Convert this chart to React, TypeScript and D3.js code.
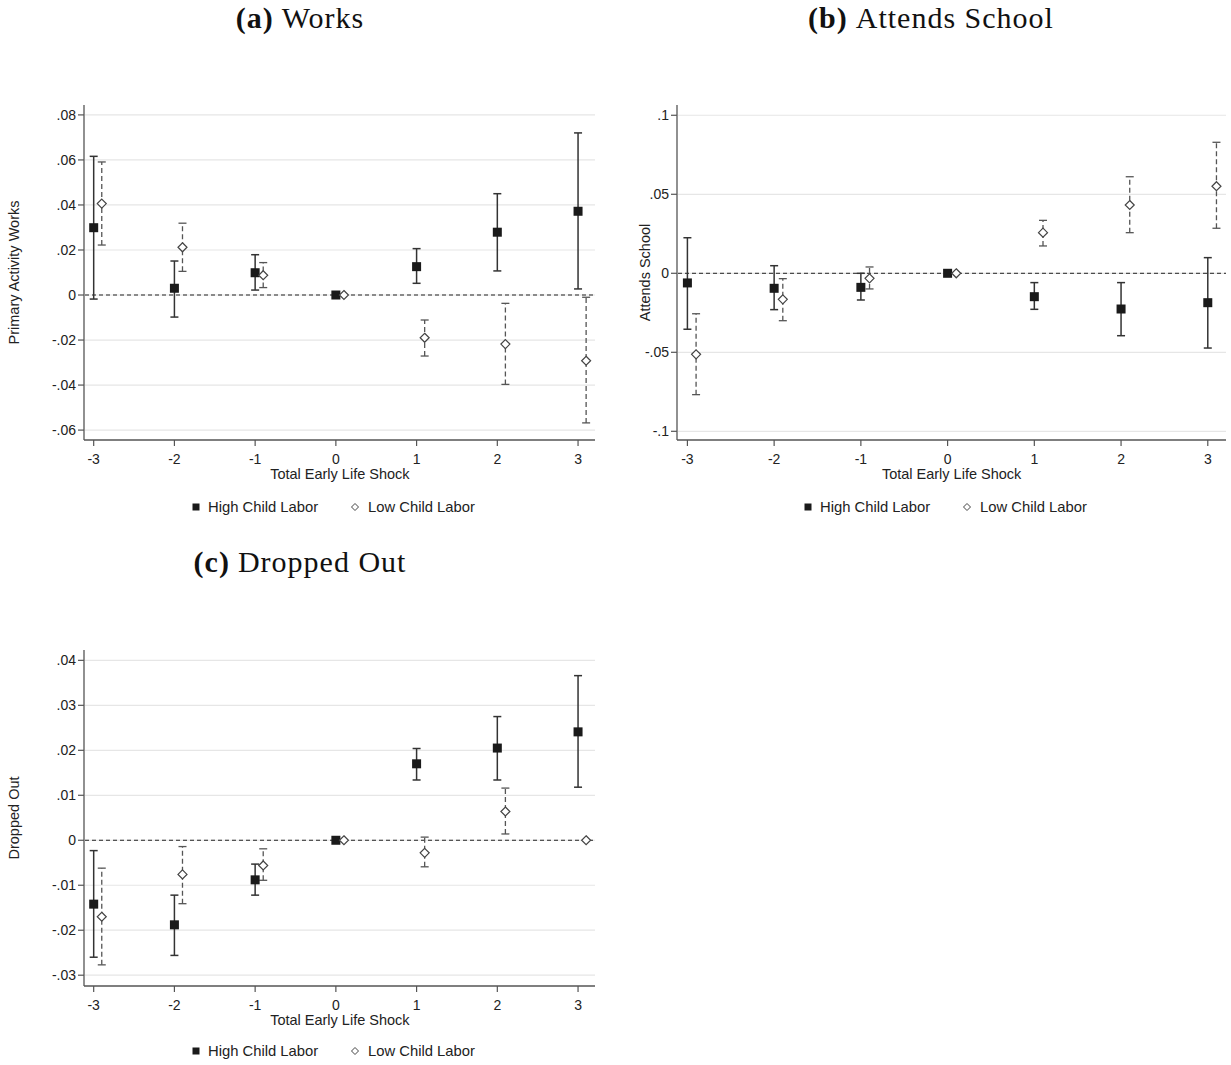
import React from 'react';
import * as d3 from 'd3';

// Total early life shock (x positions)
const shocks = [-3, -2, -1, 0, 1, 2, 3];

// (a) Works
const worksHigh = [0.0299, 0.003, 0.0099, 0, 0.0126, 0.0279, 0.0372];
const worksHighLo = [-0.0018, -0.0098, 0.0022, 0, 0.0052, 0.0107, 0.0027];
const worksHighHi = [0.0616, 0.0151, 0.0179, 0, 0.0206, 0.045, 0.072];
const worksLow = [0.0406, 0.0212, 0.0088, 0, -0.019, -0.0218, -0.0292];
const worksLowLo = [0.0222, 0.0105, 0.0033, 0, -0.0271, -0.0397, -0.0568];
const worksLowHi = [0.0591, 0.0319, 0.0144, 0, -0.0111, -0.0037, -0.001];
const worksTicks = [-0.06, -0.04, -0.02, 0, 0.02, 0.04, 0.06, 0.08];

// (b) Attends School
const schoolHigh = [-0.0061, -0.0095, -0.0089, 0, -0.0148, -0.0226, -0.0186];
const schoolHighLo = [-0.0354, -0.023, -0.0169, 0, -0.0228, -0.0395, -0.0473];
const schoolHighHi = [0.0225, 0.0048, 0.0, 0, -0.0059, -0.0059, 0.0099];
const schoolLow = [-0.0513, -0.0165, -0.0032, 0, 0.0257, 0.0432, 0.0551];
const schoolLowLo = [-0.0768, -0.03, -0.0099, 0, 0.0173, 0.0257, 0.0285];
const schoolLowHi = [-0.0256, -0.0034, 0.004, 0, 0.0335, 0.0611, 0.0829];
const schoolTicks = [-0.1, -0.05, 0, 0.05, 0.1];

// (c) Dropped Out
const dropHigh = [-0.0142, -0.0188, -0.0088, 0, 0.017, 0.0205, 0.0241];
const dropHighLo = [-0.026, -0.0256, -0.0122, 0, 0.0134, 0.0134, 0.0118];
const dropHighHi = [-0.0023, -0.0122, -0.0053, 0, 0.0204, 0.0275, 0.0366];
const dropLow = [-0.017, -0.0076, -0.0056, 0, -0.0028, 0.0064, 0];
const dropLowLo = [-0.0277, -0.0141, -0.0089, 0, -0.0059, 0.0014, 0];
const dropLowHi = [-0.0062, -0.0014, -0.0019, 0, 0.0007, 0.0116, 0];
const dropTicks = [-0.03, -0.02, -0.01, 0, 0.01, 0.02, 0.03, 0.04];

const sans = 'Arial, "Liberation Sans", Helvetica, sans-serif';
const serif = '"Liberation Serif", "Times New Roman", serif';

// strip leading zero like Stata: .08, -.02
const fmt = (v: number) => {
  if (Math.abs(v) < 1e-9) return '0';
  const s = String(+v.toFixed(3));
  return s.replace(/^(-?)0\./, '$1.');
};

type PanelProps = {
  left: number; right: number; top: number; bottom: number;
  yDomain: [number, number];
  ticks: number[];
  yTitle: string; yTitleX: number;
  high: number[]; highLo: number[]; highHi: number[];
  low: number[]; lowLo: number[]; lowHi: number[];
  titleY: number; titleX: number; letter: string; name: string;
  legendY: number; legendX: number;
};

function Panel(p: PanelProps) {
  const x = d3.scaleLinear().domain([-3.12, 3.21]).range([p.left, p.right]);
  const y = d3.scaleLinear().domain(p.yDomain).range([p.bottom, p.top]);
  const off = 0.1;
  const cap = 4;
  const axisCol = '#555';

  return (
    <g>
      <text x={p.titleX} y={p.titleY} textAnchor="middle" fontFamily={serif} fontSize={30} letterSpacing={1} fill="#111">
        <tspan fontWeight="bold">({p.letter})</tspan>
        <tspan dx={8}>{p.name}</tspan>
      </text>

      {/* grid */}
      {p.ticks.map(t => (
        <line key={'g' + t} x1={p.left + 1} x2={p.right} y1={y(t)} y2={y(t)} stroke="#e6e6e6" strokeWidth={1.2} />
      ))}
      {/* zero reference */}
      <line x1={p.left + 1} x2={p.right} y1={y(0)} y2={y(0)} stroke="#222" strokeWidth={1} strokeDasharray="4,3" />

      {/* axes */}
      <line x1={p.left} x2={p.left} y1={p.top} y2={p.bottom} stroke={axisCol} strokeWidth={1.3} />
      <line x1={p.left} x2={p.right} y1={p.bottom} y2={p.bottom} stroke={axisCol} strokeWidth={1.3} />
      {p.ticks.map(t => (
        <g key={'t' + t}>
          <line x1={p.left - 6} x2={p.left} y1={y(t)} y2={y(t)} stroke={axisCol} strokeWidth={1.2} />
          <text x={p.left - 8} y={y(t)} dy="0.35em" textAnchor="end" fontFamily={sans} fontSize={14} fill="#222">{fmt(t)}</text>
        </g>
      ))}
      {shocks.map(s => (
        <g key={'x' + s}>
          <line x1={x(s)} x2={x(s)} y1={p.bottom} y2={p.bottom + 6} stroke={axisCol} strokeWidth={1.2} />
          <text x={x(s)} y={p.bottom + 19} dy="0.35em" textAnchor="middle" fontFamily={sans} fontSize={14} fill="#222">{s}</text>
        </g>
      ))}
      <text x={(x(-3) + x(3)) / 2 + 4} y={p.bottom + 34} dy="0.35em" textAnchor="middle" fontFamily={sans} fontSize={14.5} fill="#222">Total Early Life Shock</text>
      <text transform={`translate(${p.yTitleX},${(p.top + p.bottom) / 2}) rotate(-90)`} dy="0.35em" textAnchor="middle" fontFamily={sans} fontSize={14.5} fill="#222">{p.yTitle}</text>

      {/* high child labor: solid CI, filled squares */}
      {shocks.map((s, i) => p.highHi[i] === p.highLo[i] ? null : (
        <g key={'hc' + s} stroke="#333" strokeWidth={1.5}>
          <line x1={x(s)} x2={x(s)} y1={y(p.highLo[i])} y2={y(p.highHi[i])} />
          <line x1={x(s) - cap} x2={x(s) + cap} y1={y(p.highLo[i])} y2={y(p.highLo[i])} />
          <line x1={x(s) - cap} x2={x(s) + cap} y1={y(p.highHi[i])} y2={y(p.highHi[i])} />
        </g>
      ))}
      {/* low child labor: dashed CI, hollow diamonds */}
      {shocks.map((s, i) => p.lowHi[i] === p.lowLo[i] ? null : (
        <g key={'lc' + s} stroke="#555" strokeWidth={1.3}>
          <line x1={x(s + off)} x2={x(s + off)} y1={y(p.lowLo[i])} y2={y(p.lowHi[i])} strokeDasharray="5,3" />
          <line x1={x(s + off) - cap} x2={x(s + off) + cap} y1={y(p.lowLo[i])} y2={y(p.lowLo[i])} />
          <line x1={x(s + off) - cap} x2={x(s + off) + cap} y1={y(p.lowHi[i])} y2={y(p.lowHi[i])} />
        </g>
      ))}
      {shocks.map((s, i) => (
        <rect key={'hm' + s} x={x(s) - 4.5} y={y(p.high[i]) - 4.5} width={9} height={9} fill="#1a1a1a" />
      ))}
      {shocks.map((s, i) => (
        <path key={'lm' + s} d={`M${x(s + off)},${y(p.low[i]) - 4.5}l4.5,4.5l-4.5,4.5l-4.5,-4.5z`} fill="#fff" stroke="#444" strokeWidth={1.2} />
      ))}

      {/* legend */}
      <rect x={p.legendX - 3.5} y={p.legendY - 3.5} width={7} height={7} fill="#1a1a1a" />
      <text x={p.legendX + 12} y={p.legendY} dy="0.35em" fontFamily={sans} fontSize={14.8} fill="#222">High Child Labor</text>
      <path d={`M${p.legendX + 159},${p.legendY - 3.5}l3.5,3.5l-3.5,3.5l-3.5,-3.5z`} fill="#fff" stroke="#444" strokeWidth={1} />
      <text x={p.legendX + 172} y={p.legendY} dy="0.35em" fontFamily={sans} fontSize={14.8} fill="#222">Low Child Labor</text>
    </g>
  );
}

export default function App() {
  return (
    <svg width={1231} height={1065} style={{ display: 'block', position: 'absolute', left: 0, top: 0, background: '#fff' }}>
      <rect width={1231} height={1065} fill="#fff" />
      <Panel left={84} right={595} top={105} bottom={440} yDomain={[-0.0644, 0.0844]} ticks={worksTicks}
        yTitle="Primary Activity Works" yTitleX={14} high={worksHigh} highLo={worksHighLo} highHi={worksHighHi}
        low={worksLow} lowLo={worksLowLo} lowHi={worksLowHi}
        titleX={300} titleY={28} letter="a" name="Works" legendX={196} legendY={507} />
      <Panel left={677} right={1226} top={105} bottom={440} yDomain={[-0.1055, 0.1065]} ticks={schoolTicks}
        yTitle="Attends School" yTitleX={645} high={schoolHigh} highLo={schoolHighLo} highHi={schoolHighHi}
        low={schoolLow} lowLo={schoolLowLo} lowHi={schoolLowHi}
        titleX={931} titleY={28} letter="b" name="Attends School" legendX={808} legendY={507} />
      <Panel left={84} right={595} top={650} bottom={986} yDomain={[-0.0324, 0.0423]} ticks={dropTicks}
        yTitle="Dropped Out" yTitleX={14} high={dropHigh} highLo={dropHighLo} highHi={dropHighHi}
        low={dropLow} lowLo={dropLowLo} lowHi={dropLowHi}
        titleX={300} titleY={572} letter="c" name="Dropped Out" legendX={196} legendY={1051} />
    </svg>
  );
}
